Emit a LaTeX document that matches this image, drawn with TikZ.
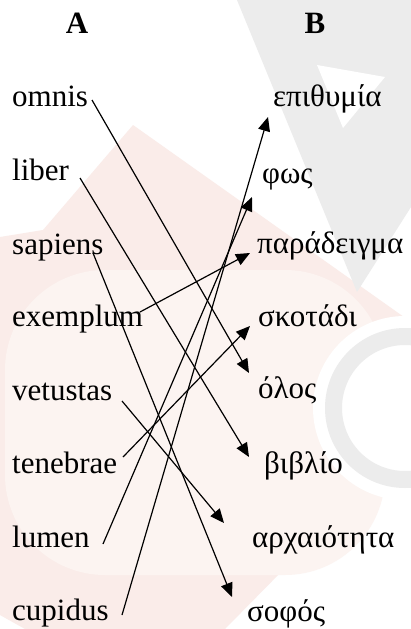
\documentclass[tikz,border=0pt]{standalone}
\usepackage{fontspec}
\setmainfont{Liberation Serif}
\newfontfamily\tnr{Liberation Serif}
\newfontfamily\tnrbold{Liberation Serif Bold}
\usetikzlibrary{arrows.meta}
\definecolor{wmpink}{RGB}{250,236,233}
\definecolor{wmlight}{RGB}{252,244,241}
\definecolor{wmgrey}{RGB}{236,236,236}
\tikzset{
  word/.style={anchor=base west, inner sep=0pt, font=\tnr\fontsize{31}{36}\selectfont},
  head/.style={anchor=base, inner sep=0pt, font=\tnrbold\fontsize{31}{36}\selectfont},
  link/.style={line width=1.2pt, -{Triangle[length=14pt,width=12pt]}},
}
\begin{document}
\begin{tikzpicture}[x=1pt,y=-1pt]
\useasboundingbox (0,0) rectangle (411,629);
% watermark
\fill[white] (0,0) rectangle (411,629);
\fill[wmpink] (0,237) -- (43,230) -- (133,125) -- (411,322) -- (411,440) -- (225,629) -- (25,629) -- (0,615) -- cycle;
\fill[wmlight, rounded corners=100pt] (5,270) rectangle (385,575);
\fill[wmgrey] (237,0) -- (411,0) -- (411,207) -- (357,292) -- cycle;
\fill[white] (317,65) -- (385,77) -- (343,128) -- cycle;
\fill[white] (405,408) circle[radius=92];
\fill[wmgrey, even odd rule] (405,408) circle[radius=80] (405,408) circle[radius=63];
% headers
\node[head] (hA) at (77,33) {A};
\node[head] (hB) at (315,33) {B};
% left column
\node[word] (omnis)    at (12,106) {omnis};
\node[word] (liber)    at (12,180) {liber};
\node[word] (sapiens)  at (12,254) {sapiens};
\node[word] (exemplum) at (12,326) {exemplum};
\node[word] (vetustas) at (12,400) {vetustas};
\node[word] (tenebrae) at (12,473) {tenebrae};
\node[word] (lumen)    at (12,547) {lumen};
\node[word] (cupidus)  at (12,620) {cupidus};
% right column
\node[word] (epithymia)   at (273,106) {επιθυμία};
\node[word] (fos)         at (262,183) {φως};
\node[word] (paradeigma)  at (257,253) {παράδειγμα};
\node[word] (skotadi)     at (258,326) {σκοτάδι};
\node[word] (olos)        at (258,398) {όλος};
\node[word] (vivlio)      at (264,473) {βιβλίο};
\node[word] (archaiotita) at (252,547) {αρχαιότητα};
\node[word] (sofos)       at (247,621) {σοφός};
% connectors
\draw[link] ([shift={(80,-6)}]omnis.base west) -- ([shift={(-9,-25)}]olos.base west);
\draw[link] ([shift={(68,-2)}]liber.base west) -- ([shift={(-15,-16)}]vivlio.base west);
\draw[link] ([shift={(81,-1)}]sapiens.base west) -- ([shift={(-15,-24)}]sofos.base west);
\draw[link] ([shift={(128,-14)}]exemplum.base west) -- ([shift={(-7,0)}]paradeigma.base west);
\draw[link] ([shift={(110,1)}]vetustas.base west) -- ([shift={(-28,-24)}]archaiotita.base west);
\draw[link] ([shift={(111,-16)}]tenebrae.base west) -- ([shift={(-8,0)}]skotadi.base west);
\draw[link] ([shift={(91,-3)}]lumen.base west) -- ([shift={(-10,14)}]fos.base west);
\draw[link] ([shift={(110,-5)}]cupidus.base west) -- ([shift={(-5,11)}]epithymia.base west);
\end{tikzpicture}
\end{document}
